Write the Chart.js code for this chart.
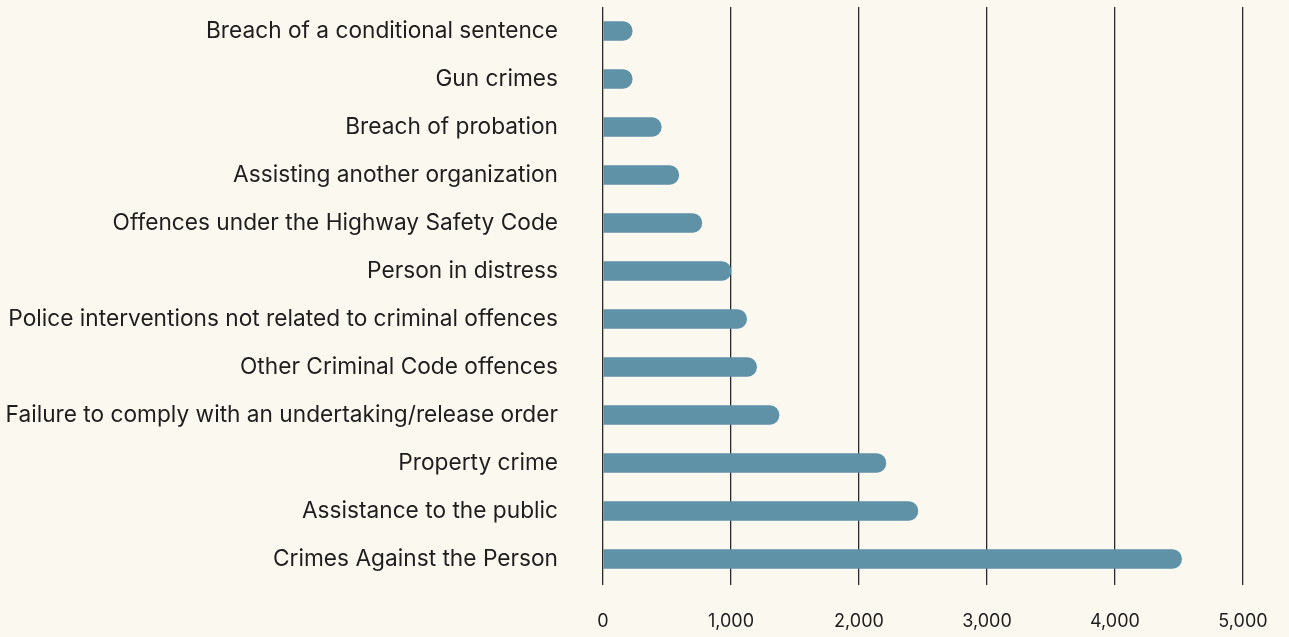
<!DOCTYPE html>
<html><head><meta charset="utf-8">
<script src="https://cdn.jsdelivr.net/npm/chart.js@4"></script>
<style>html,body{margin:0;padding:0;background:#fbf8f0;}#wrap{width:1289px;height:637px;}</style>
</head><body><div id="wrap"><canvas id="c" width="1289" height="637"></canvas></div>
<script>
const categories = [
  "Breach of a conditional sentence",
  "Gun crimes",
  "Breach of probation",
  "Assisting another organization",
  "Offences under the Highway Safety Code",
  "Person in distress",
  "Police interventions not related to criminal offences",
  "Other Criminal Code offences",
  "Failure to comply with an undertaking/release order",
  "Property crime",
  "Assistance to the public",
  "Crimes Against the Person"
];
const values = [228, 228, 455, 592, 772, 1000, 1122, 1200, 1375, 2210, 2460, 4520];
const tickValues = [0, 1000, 2000, 3000, 4000, 5000];

new Chart(document.getElementById('c'), {
  type: 'bar',
  data: { labels: categories, datasets: [{ data: values, backgroundColor: '#5f91a7', barThickness: 19, borderRadius: 10, borderSkipped: 'start' }] },
  options: {
    indexAxis: 'y', responsive: false, animation: false,
    layout: { padding: { top: 7, right: 46, left: 0, bottom: 0 } },
    plugins: { legend: { display: false }, tooltip: { enabled: false } },
    scales: {
      x: {
        min: 0, max: 5000,
        afterBuildTicks: (ax) => { ax.ticks = tickValues.map(v => ({ value: v })); },
        afterFit: (ax) => { ax.height = 54; ax.paddingLeft = 0; ax.paddingRight = 0; },
        grid: { color: '#2a2a2a', lineWidth: 1.3, drawTicks: true, tickLength: 2 },
        border: { display: false },
        ticks: { color: '#1e1e1e', font: { family: 'Inter', size: 18 }, padding: 26, maxRotation: 0,
          callback: (v) => v.toLocaleString('en-US') }
      },
      y: {
        afterFit: (ax) => { ax.width = 603; ax.paddingTop = 0; ax.paddingBottom = 0; },
        grid: { display: false, drawTicks: false },
        border: { display: false },
        ticks: { color: '#1e1e1e', font: { family: 'Inter', size: 22.7 }, padding: 45, minRotation: 0, maxRotation: 0, autoSkip: false }
      }
    }
  }
});
</script></body></html>
